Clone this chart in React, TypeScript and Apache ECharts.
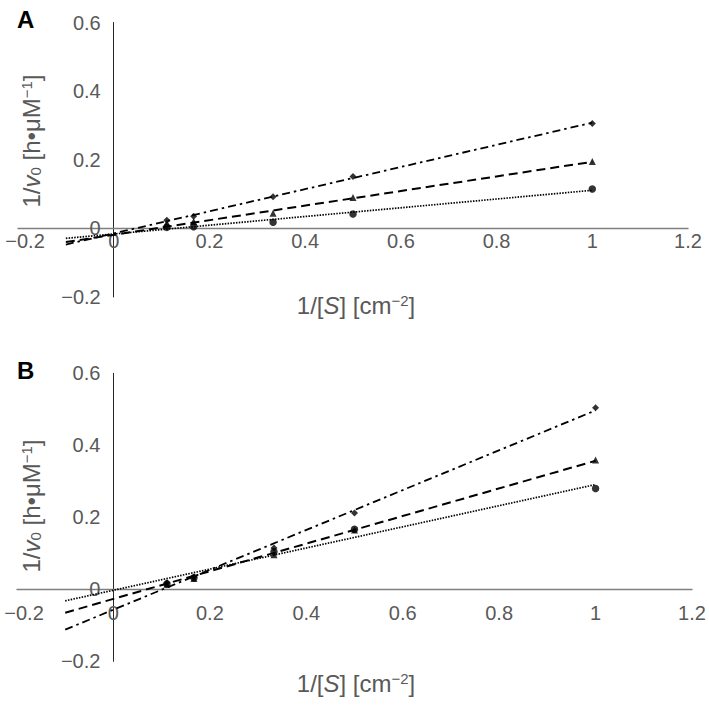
import React, { useEffect, useRef } from "react";
import * as echarts from "echarts";

// Substrate reciprocal values 1/[S]
const xValues = [0.111, 0.167, 0.333, 0.5, 1];
// Panel A measured points
const aDiamond = [0.024, 0.035, 0.092, 0.151, 0.306];
const aTriangle = [0.016, 0.02, 0.044, 0.09, 0.195];
const aCircle = [0.003, 0.005, 0.018, 0.042, 0.115];
// Panel B measured points
const bDiamond = [0.018, 0.034, 0.115, 0.212, 0.504];
const bTriangle = [0.014, 0.03, 0.096, 0.165, 0.359];
const bCircle = [0.015, 0.032, 0.104, 0.167, 0.28];
// Trend line ends
const trendX = [-0.1, 1];
const aTrendDiamond = [-0.047, 0.308];
const aTrendTriangle = [-0.04, 0.194];
const aTrendCircle = [-0.029, 0.111];
const bTrendDiamond = [-0.112, 0.497];
const bTrendTriangle = [-0.065, 0.357];
const bTrendCircle = [-0.032, 0.291];
// Axis ranges
const xRange = [-0.2, 1.2];
const yRange = [-0.2, 0.6];
const panelLabels = ["A", "B"];

const FONT = "'Liberation Sans', Arial, Helvetica, sans-serif";
const GREY = "#595959";

const pair = (xs: number[], ys: number[]) => xs.map((x, i) => [x, ys[i]]);

const fmt = (v: number) => {
  if (Math.abs(v) < 1e-9) return "0";
  const s = String(Number(v.toFixed(1)));
  return s.replace("-", "\u2212");
};

export default function App() {
  const ref = useRef<HTMLDivElement>(null);
  useEffect(() => {
    if (!ref.current) return;
    const chart = echarts.init(ref.current, undefined, { renderer: "svg" });

    const grids = [
      { left: 18, width: 670, top: 22.5, height: 274.5 },
      { left: 17, width: 675, top: 373.3, height: 288 },
    ];
    const xLabelMargin = [3, 14];
    // distance of the zero lines from grid's bottom / left edges
    const xOffset = grids.map((g) => -((0 - yRange[0]) / (yRange[1] - yRange[0])) * g.height);
    const yOffset = grids.map((g) => -((0 - xRange[0]) / (xRange[1] - xRange[0])) * g.width);

    const labelStyle = { color: GREY, fontSize: 20, fontFamily: FONT };

    const xAxes = grids.map((_, i) => ({
      type: "value",
      gridIndex: i,
      position: "bottom",
      offset: xOffset[i],
      min: xRange[0],
      max: xRange[1],
      interval: 0.2,
      axisLine: { onZero: false, lineStyle: { color: "#7f7f7f", width: 1.3 } },
      axisTick: { show: false },
      splitLine: { show: false },
      axisLabel: {
        formatter: (v: number) =>
          Math.abs(v - xRange[0]) < 1e-9 ? "{first|" + fmt(v) + "}" : fmt(v),
        rich: { first: { ...labelStyle, padding: [0, 0, 0, 14] } },
        ...labelStyle,
        margin: xLabelMargin[i],
        showMinLabel: true,
        showMaxLabel: true,
      },
    }));
    const yAxes = grids.map((_, i) => ({
      type: "value",
      gridIndex: i,
      position: "left",
      offset: yOffset[i],
      min: yRange[0],
      max: yRange[1],
      interval: 0.2,
      axisLine: { show: true, onZero: false, lineStyle: { color: "#262626", width: 1 } },
      axisTick: { show: false },
      splitLine: { show: false },
      axisLabel: {
        formatter: fmt,
        ...labelStyle,
        margin: 13,
        showMinLabel: true,
        showMaxLabel: true,
      },
    }));

    const lineSeries = (idx: number, ys: number[], type: any, width: number) => ({
      type: "line",
      xAxisIndex: idx,
      yAxisIndex: idx,
      data: pair(trendX, ys),
      showSymbol: false,
      symbol: "none",
      silent: true,
      lineStyle: { color: "#000", width, type },
      z: 2,
    });
    const pointSeries = (idx: number, ys: number[], symbol: string, size: number) => ({
      type: "scatter",
      xAxisIndex: idx,
      yAxisIndex: idx,
      data: pair(xValues, ys),
      symbol,
      symbolSize: size,
      itemStyle: { color: "#000" },
      z: 3,
    });

    const dashDot = [8, 4, 2.5, 4];
    const dashed = [9, 5];
    const dotted = [1.5, 1.3];

    const series = [
      lineSeries(0, aTrendDiamond, dashDot, 1.8),
      lineSeries(0, aTrendTriangle, dashed, 2),
      lineSeries(0, aTrendCircle, dotted, 1.7),
      lineSeries(1, bTrendDiamond, dashDot, 1.8),
      lineSeries(1, bTrendTriangle, dashed, 2),
      lineSeries(1, bTrendCircle, dotted, 1.7),
      pointSeries(0, aDiamond, "diamond", 7),
      pointSeries(0, aTriangle, "triangle", 7),
      pointSeries(0, aCircle, "circle", 7.5),
      pointSeries(1, bDiamond, "diamond", 7),
      pointSeries(1, bTriangle, "triangle", 7),
      pointSeries(1, bCircle, "circle", 7.5),
    ];

    const richTitle = {
      base: { fontSize: 24, fontFamily: FONT, fill: GREY, color: GREY },
      it: { fontSize: 24, fontFamily: FONT, fontStyle: "italic", fill: GREY, color: GREY },
      sup: { fontSize: 15, fontFamily: FONT, fill: GREY, color: GREY, verticalAlign: "top" },
      sub: { fontSize: 15, fontFamily: FONT, fill: GREY, color: GREY, verticalAlign: "bottom" },
    };

    const xTitle = (y: number) => ({
      type: "text",
      x: 356,
      y,
      style: {
        text: "{base|1/[}{it|S}{base|] [cm}{sup|\u22122}{base|]}",
        rich: richTitle,
        fontSize: 24,
        fontFamily: FONT,
        fill: GREY,
        align: "center",
        textAlign: "center",
        verticalAlign: "middle",
        textVerticalAlign: "middle",
      },
    });
    const yTitle = (y: number) => ({
      type: "text",
      x: 31,
      y,
      rotation: Math.PI / 2,
      style: {
        text: "{base|1/}{it|v}{sub|0}{base| [h\u2022\u03bcM}{sup|\u22121}{base|]}",
        rich: richTitle,
        fontSize: 24,
        fontFamily: FONT,
        fill: GREY,
        align: "center",
        textAlign: "center",
        verticalAlign: "middle",
        textVerticalAlign: "middle",
      },
    });
    const panelLabel = (t: string, y: number) => ({
      type: "text",
      x: 17,
      y,
      style: {
        text: t,
        fontSize: 24,
        fontWeight: "bold",
        fontFamily: FONT,
        fill: "#000",
        align: "left",
        textAlign: "left",
        verticalAlign: "middle",
        textVerticalAlign: "middle",
      },
    });

    chart.setOption({
      animation: false,
      backgroundColor: "#fff",
      grid: grids.map((g) => ({ ...g, containLabel: false, outerBoundsMode: "none" })),
      xAxis: xAxes,
      yAxis: yAxes,
      series,
      graphic: [
        xTitle(305),
        xTitle(683),
        yTitle(141),
        yTitle(506),
        panelLabel(panelLabels[0], 19),
        panelLabel(panelLabels[1], 370),
      ],
    } as any);
    return () => chart.dispose();
  }, []);
  return (
    <div
      ref={ref}
      style={{ position: "fixed", left: 0, top: 0, width: 709, height: 706, background: "#fff" }}
    />
  );
}
